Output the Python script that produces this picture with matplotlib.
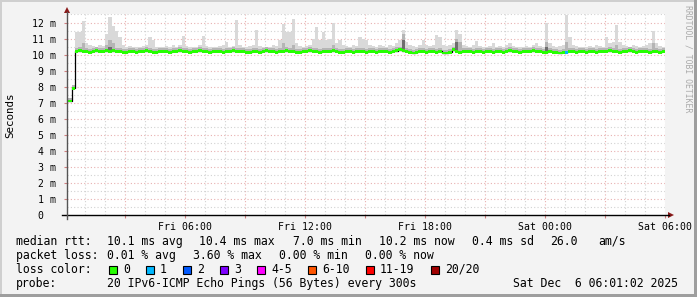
import matplotlib
matplotlib.use('Agg')
import matplotlib.pyplot as plt
from matplotlib.patches import Polygon, Rectangle
from matplotlib.lines import Line2D
import numpy as np

W, H = 697, 297

# median rtt in ms, one value per 10 minutes, Fri 00:00 -> Sat 06:00
median = [
    7.1, 7.1, 7.9, 10.2, 10.25, 10.2, 10.2, 10.15, 10.2, 10.25, 10.2, 10.2, 10.25, 10.2, 10.25, 10.2, 10.2, 10.15,
    10.15, 10.2, 10.2, 10.15, 10.2, 10.2, 10.25, 10.2, 10.15, 10.15, 10.2, 10.2, 10.2, 10.15, 10.2, 10.2, 10.25, 10.2,
    10.2, 10.15, 10.2, 10.2, 10.25, 10.2, 10.2, 10.15, 10.2, 10.2, 10.2, 10.15, 10.2, 10.2, 10.25, 10.2, 10.2, 10.2,
    10.15, 10.15, 10.2, 10.2, 10.15, 10.2, 10.25, 10.2, 10.2, 10.15, 10.2, 10.2, 10.25, 10.2, 10.2, 10.15, 10.15, 10.2,
    10.2, 10.25, 10.2, 10.2, 10.15, 10.2, 10.2, 10.2, 10.25, 10.2, 10.15, 10.15, 10.2, 10.2, 10.15, 10.2, 10.2, 10.2,
    10.15, 10.2, 10.2, 10.15, 10.2, 10.2, 10.2, 10.15, 10.2, 10.25, 10.3, 10.25, 10.2, 10.15, 10.1, 10.15, 10.2, 10.2,
    10.15, 10.2, 10.2, 10.15, 10.2, 10.1, 10.1, 10.15, 10.3, 10.2, 10.15, 10.2, 10.2, 10.2, 10.15, 10.2, 10.2, 10.15,
    10.2, 10.2, 10.15, 10.2, 10.2, 10.15, 10.2, 10.25, 10.2, 10.2, 10.15, 10.2, 10.2, 10.2, 10.25, 10.2, 10.2, 10.15,
    10.15, 10.2, 10.15, 10.15, 10.1, 10.15, 10.15, 10.2, 10.2, 10.15, 10.2, 10.2, 10.15, 10.2, 10.2, 10.15, 10.2, 10.2,
    10.2, 10.25, 10.2, 10.2, 10.15, 10.2, 10.2, 10.25, 10.2, 10.15, 10.2, 10.2, 10.2, 10.15, 10.2, 10.2, 10.15, 10.2,
]

# highest ping per 10 minutes (top of the smoke)
smoke_max = [
    7.3, 7.3, 8.0, 11.4, 11.4, 12.1, 10.7, 10.6, 10.55, 10.5, 10.6, 10.55, 11.3, 12.37, 11.8, 11.5, 11.1, 10.6,
    10.5, 10.55, 10.5, 10.45, 10.5, 10.55, 10.6, 11.1, 10.9, 10.5, 10.45, 10.5, 10.55, 10.5, 10.6, 10.5, 10.6, 11.16,
    10.55, 10.5, 10.45, 10.5, 10.6, 11.16, 10.55, 10.5, 10.5, 10.45, 10.55, 10.6, 10.8, 10.5, 10.55, 12.17, 10.6, 10.5,
    10.5, 10.55, 10.6, 11.56, 10.55, 10.5, 10.45, 10.5, 10.6, 10.55, 10.9, 11.92, 11.4, 11.4, 12.23, 10.7, 10.55, 10.5,
    10.55, 10.6, 11.0, 11.75, 10.9, 11.38, 10.9, 11.0, 11.96, 10.7, 10.9, 10.6, 10.55, 10.5, 10.6, 10.55, 11.07, 11.0,
    10.9, 10.6, 10.55, 10.5, 10.6, 10.55, 10.5, 10.6, 10.55, 10.7, 10.9, 11.55, 10.8, 10.6, 10.55, 10.5, 10.6, 10.9,
    10.6, 10.55, 10.6, 11.2, 11.1, 10.6, 10.55, 10.6, 10.7, 11.55, 11.3, 10.6, 10.55, 10.5, 10.6, 10.84, 10.55, 10.5,
    10.5, 10.55, 10.7, 10.5, 10.55, 10.5, 10.6, 10.7, 10.55, 10.5, 10.45, 10.5, 10.55, 10.5, 10.6, 10.7, 10.55, 10.5,
    12.0, 10.7, 10.55, 10.5, 10.55, 10.6, 12.46, 11.1, 10.6, 10.55, 10.5, 10.45, 10.5, 10.55, 10.5, 10.6, 10.55, 10.5,
    11.1, 10.7, 10.8, 11.85, 10.8, 10.6, 10.55, 10.5, 10.6, 10.55, 10.5, 10.55, 10.6, 10.7, 11.5, 10.7, 10.55, 10.5,
]

# places where the dense (darker) smoke reaches higher than usual
dense_smoke = {4: 10.5, 5: 10.7, 12: 10.6, 13: 10.9, 14: 10.7, 65: 10.7, 68: 10.6, 80: 10.6,
               101: 11.3, 117: 11.0, 118: 10.8, 144: 10.8, 150: 10.8, 165: 10.6, 176: 10.7}
darkest_smoke = {13: 10.5, 101: 10.9, 117: 10.8, 144: 10.5}

# steps with packet loss (number of lost pings)
lost_pings = {150: 1}

loss_labels = ['0', '1', '2', '3', '4-5', '6-10', '11-19', '20/20']
loss_colors = ['#26ff00', '#00b8ff', '#0059ff', '#7e00ff', '#ff00ff', '#ff5500', '#ff0000', '#a00000']

tick_hours = [6, 12, 18, 24, 30]
tick_labels = ['Fri 06:00', 'Fri 12:00', 'Fri 18:00', 'Sat 00:00', 'Sat 06:00']

stats_rtt = ['median rtt:', '10.1 ms avg', '10.4 ms max', '7.0 ms min', '10.2 ms now', '0.4 ms sd', '26.0', 'am/s']
stats_loss = ['packet loss:', '0.01 % avg', '3.60 % max', '0.00 % min', '0.00 % now']
probe_text = '20 IPv6-ICMP Echo Pings (56 Bytes) every 300s'
stamp_text = 'Sat Dec  6 06:01:02 2025'

MONO = 'DejaVu Sans Mono'
plt.rcParams['font.family'] = [MONO]


def fx(x):
    return x / W


def fy(y):
    return 1 - y / H


fig = plt.figure(figsize=(W / 100, H / 100), dpi=100, facecolor='#f3f3f3')
ax = fig.add_axes([fx(67), fy(215), (665 - 67) / W, (215 - 14) / H])
ax.set_facecolor('white')
ax.set_xlim(0.1, 30.0)
ax.set_ylim(0, 12.53)
for s in ax.spines.values():
    s.set_visible(False)

# grid: minor every hour / half ms, major every 3 hours / 1 ms
for h in range(1, 31):
    c = '#e8b0b0' if h % 3 == 0 else '#d2d2d2'
    ax.axvline(h, color=c, lw=0.8, ls=(0, (1, 2)), zorder=0)
for v in np.arange(0.5, 12.6, 0.5):
    c = '#e8b0b0' if v % 1 == 0 else '#d2d2d2'
    ax.axhline(v, color=c, lw=0.8, ls=(0, (1, 2)), zorder=0)

step = 1 / 6
t = np.arange(len(median)) * step
med = np.array(median)
smax = np.array(smoke_max)
low = med - 0.05

ax.bar(t, smax - low, bottom=low, width=step, align='edge', color='#d9d9d9', lw=0, zorder=1)
dense_top = med + 0.2
for i, v in dense_smoke.items():
    dense_top[i] = v
ax.bar(t, dense_top - med, bottom=med, width=step, align='edge', color='#b5b5b5', lw=0, zorder=2)
for i, v in darkest_smoke.items():
    ax.bar(t[i], v - med[i], bottom=med[i], width=step, align='edge', color='#6e6e6e', lw=0, zorder=3)

# median line, then loss coloured blocks on it
edges = np.append(t, t[-1] + step)
ax.step(edges, np.append(med, med[-1]), where='post', color='black', lw=0.9, zorder=4)
cols = []
for i in range(len(med)):
    n = lost_pings.get(i, 0)
    cols.append(loss_colors[1] if n == 1 else loss_colors[0])
ax.bar(t, 0.17, bottom=med - 0.085, width=step, align='edge', color=cols, lw=0, zorder=5)

# ticks and labels
ax.set_xticks(range(3, 31, 3))
ax.set_xticklabels(['' if h not in tick_hours else tick_labels[tick_hours.index(h)] for h in range(3, 31, 3)])
ax.set_yticks(range(0, 13))
ax.set_yticklabels(['0  '] + [f'{v} m' for v in range(1, 13)])
ax.tick_params(axis='x', length=2, width=0.8, color='#d08080', pad=3, labelsize=7.1)
ax.tick_params(axis='y', length=2, width=0.8, color='#d08080', pad=6, labelsize=7.1)

# axes with arrows
fig.add_artist(Line2D([fx(62), fx(669)], [fy(215), fy(215)], color='black', lw=1))
fig.add_artist(Line2D([fx(67), fx(67)], [fy(219), fy(12)], color='#555555', lw=1))
fig.add_artist(Polygon([(fx(668), fy(212)), (fx(668), fy(218)), (fx(674), fy(215))],
                       closed=True, color='#8b1a1a', lw=0))
fig.add_artist(Polygon([(fx(64), fy(13)), (fx(70), fy(13)), (fx(67), fy(7))],
                       closed=True, color='#8b1a1a', lw=0))

fig.text(fx(10), fy(115), 'Seconds', rotation=90, ha='center', va='center', fontsize=7.8)
fig.text(fx(688), fy(59), 'RRDTOOL / TOBI OETIKER', rotation=270, ha='center', va='center',
         fontsize=5.9, color='#aaaaaa')

# legend block
fs = 8.3
rtt_x = [16, 107, 199, 293, 379, 472, 550, 598]
for x, s in zip(rtt_x, stats_rtt):
    fig.text(fx(x), fy(241.5), s, fontsize=fs, va='center')
loss_x = [16, 107, 193, 279, 365]
for x, s in zip(loss_x, stats_loss):
    fig.text(fx(x), fy(255.5), s, fontsize=fs, va='center')
fig.text(fx(16), fy(269.5), 'loss color:', fontsize=fs, va='center')
x = 109
for lab, c in zip(loss_labels, loss_colors):
    fig.add_artist(Rectangle((fx(x), fy(273.5)), 8 / W, 8 / H, facecolor=c, edgecolor='black', lw=0.8))
    fig.text(fx(x + 14), fy(269.5), lab, fontsize=fs, va='center')
    x += 14 + 7 * len(lab) + 16
fig.text(fx(16), fy(283.5), 'probe:', fontsize=fs, va='center')
fig.text(fx(107), fy(283.5), probe_text, fontsize=fs, va='center')
fig.text(fx(513), fy(283.5), stamp_text, fontsize=fs, va='center')

# frame around the image
fig.add_artist(Rectangle((0, fy(2)), 1, 2 / H, facecolor='#cfcfcf', lw=0))
fig.add_artist(Rectangle((0, 0), 2 / W, 1, facecolor='#cfcfcf', lw=0))
fig.add_artist(Rectangle((0, 0), 1, 3 / H, facecolor='#9e9e9e', lw=0))
fig.add_artist(Rectangle((fx(694), 0), 3 / W, 1, facecolor='#9e9e9e', lw=0))

fig.savefig('out.png', dpi=100, facecolor=fig.get_facecolor())
